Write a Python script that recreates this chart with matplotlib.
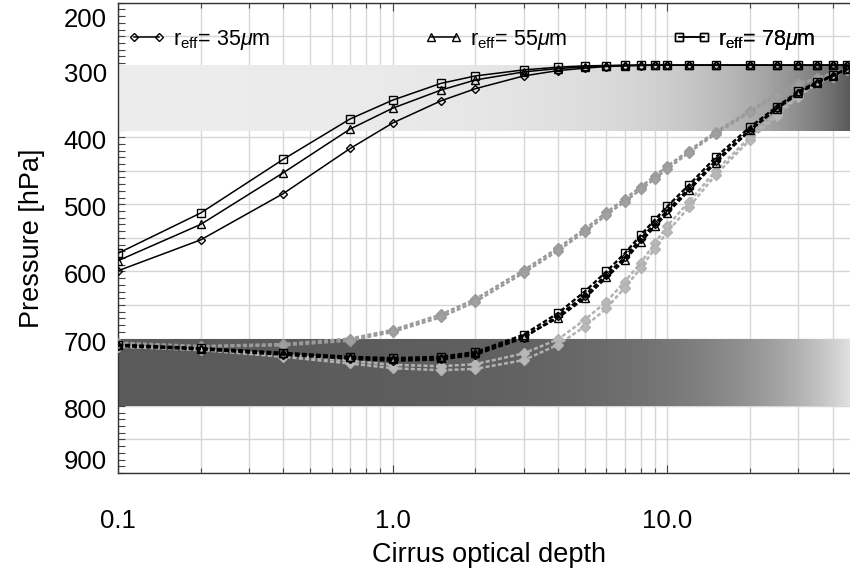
import numpy as np
import matplotlib
matplotlib.use('Agg')
import matplotlib.pyplot as plt
import matplotlib.transforms as mtransforms
from matplotlib.ticker import FixedLocator, NullFormatter, FixedFormatter

plt.rcParams['font.family'] = ['Liberation Sans', 'DejaVu Sans']
plt.rcParams['mathtext.fontset'] = 'custom'
plt.rcParams['mathtext.rm'] = 'Liberation Sans'
plt.rcParams['mathtext.it'] = 'Liberation Sans:italic'
plt.rcParams['mathtext.bf'] = 'Liberation Sans:bold'

# ---------------- data ----------------
tau = [0.1, 0.2, 0.4, 0.7, 1.0, 1.5, 2, 3, 4, 5, 6, 7, 8, 9, 10, 12, 15, 20, 25, 30, 35, 40, 45]

# solid (black) curves
solid_35 = [599, 553, 484, 417, 379, 346, 328, 309, 301, 297.5, 295, 294, 293.5, 293, 293, 293, 293, 293, 293, 293, 293, 293, 293]
solid_55 = [584, 530, 453, 388, 357, 330, 315, 303, 298, 295.5, 294, 293.5, 293, 293, 293, 293, 293, 293, 293, 293, 293, 293, 293]
solid_78 = [573, 513, 433, 373, 345, 320, 309, 300, 296, 294, 293.5, 293, 293, 293, 293, 293, 293, 293, 293, 293, 293, 293, 293]

# dashed (black) curves
dash_35 = [711, 716, 724, 730, 733, 731, 724, 699, 666, 636, 605, 579, 551, 529, 509, 476, 435, 389, 357, 334, 319, 309, 299]
dash_55 = [710, 715, 722, 728, 731, 729, 722, 697, 669, 640, 609, 583, 556, 533, 513, 479, 438, 390, 358, 335, 320, 309, 299]
dash_78 = [709, 714, 721, 727, 729, 727, 720, 694, 662, 630, 600, 573, 546, 523, 503, 471, 430, 385, 355, 332, 318, 308, 298]

# grey dashed, upper group
grey_a1 = [706, 711, 708, 700, 687, 664, 641, 598, 565, 537, 512, 492, 474, 458, 443, 420, 392, 361, 336, 320, 312, 305, 298]
grey_a2 = [707, 712, 710, 703, 690, 668, 645, 602, 569, 541, 516, 496, 478, 462, 447, 423, 395, 363, 338, 322, 313, 306, 299]
# grey dashed, lower group
grey_b1 = [711, 716, 724, 733, 739, 741, 738, 722, 701, 672, 645, 615, 587, 558, 532, 496, 450, 400, 365, 338, 318, 308, 298]
grey_b2 = [712, 717, 727, 737, 744, 747, 745, 732, 709, 682, 655, 624, 595, 566, 541, 504, 456, 404, 368, 340, 320, 310, 300]

# shaded layers (hPa)
upper_layer = [293, 391]
lower_layer = [700, 800]

legend_labels = [r'r$_{\rm eff}$= 35$\mu$m', r'r$_{\rm eff}$= 55$\mu$m', r'r$_{\rm eff}$= 78$\mu$m']
xtick_vals = [0.1, 1.0, 10.0]
xtick_labels = ['0.1', '1.0', '10.0']
ytick_vals = [200, 300, 400, 500, 600, 700, 800, 900]

# ---------------- figure ----------------
W, H = 850, 576
fig = plt.figure(figsize=(W / 100, H / 100), dpi=100)
px0, px1 = 118, 859.4
py0, py1 = 2.7, 473
ax = fig.add_axes([px0 / W, (H - py1) / H, (px1 - px0) / W, (py1 - py0) / H])
ax.set_xscale('log')
ax.set_xlim(0.1, 50)
ax.set_ylim(900, 200)

# gradient bands
tg = np.geomspace(0.1, 50, 600)
tc = np.sqrt(tg[:-1] * tg[1:])
up_shade = np.clip(236 - 3.17 * tc, 0, 255) / 255.0
lo_shade = np.clip(90 + 2.9 * tc, 0, 255) / 255.0
ax.pcolormesh(tg, upper_layer, up_shade[None, :], cmap='gray', vmin=0, vmax=1,
              shading='flat', zorder=1, antialiased=False, rasterized=True)
ax.pcolormesh(tg, lower_layer, lo_shade[None, :], cmap='gray', vmin=0, vmax=1,
              shading='flat', zorder=1, antialiased=False, rasterized=True)

# grid
ax.xaxis.set_major_locator(FixedLocator(xtick_vals))
ax.xaxis.set_major_formatter(FixedFormatter(xtick_labels))
minor_x = [m * d for d in (0.1, 1, 10) for m in range(2, 10) if m * d <= 50]
ax.xaxis.set_minor_locator(FixedLocator(minor_x))
ax.xaxis.set_minor_formatter(NullFormatter())
ax.yaxis.set_major_locator(FixedLocator(np.arange(200, 901, 50)))
ax.yaxis.set_major_formatter(NullFormatter())
ax.yaxis.set_minor_locator(FixedLocator(np.arange(200, 901, 10)))
ax.grid(which='both', axis='x', color='#d6d6d6', linewidth=1.0, zorder=0)
ax.grid(which='major', axis='y', color='#d6d6d6', linewidth=1.0, zorder=0)
ax.set_axisbelow(True)

ax.tick_params(axis='x', which='major', direction='in', length=6, width=0.8, top=True, bottom=True,
               labelsize=18.5, pad=26, colors='#444444', labelcolor='black')
ax.tick_params(axis='x', which='minor', direction='in', length=3.5, width=0.8, top=True, bottom=True,
               colors='#444444')
ax.tick_params(axis='y', which='both', direction='in', length=5, width=0.8, left=True, right=False,
               colors='#444444')
for s in ax.spines.values():
    s.set_color('#333333')
    s.set_linewidth(1.0)

# y tick labels as text with slight IDL-like offsets
ylab_offsets = {200: -17, 900: 11}
for v in ytick_vals:
    dy = ylab_offsets.get(v, -5)
    tr = ax.get_yaxis_transform() + mtransforms.ScaledTranslation(0, dy / 100, fig.dpi_scale_trans)
    ax.text(-0.0152, v, str(v), transform=tr, ha='right', va='center', fontsize=18.5, clip_on=False)

# curves
lw_s = 1.1
ms_kw = dict(markerfacecolor='none', markeredgecolor='black', markeredgewidth=1.0)
l1, = ax.plot(tau, solid_35, '-', color='black', lw=lw_s, marker='D', ms=4.5, zorder=5, **ms_kw)
l2, = ax.plot(tau, solid_55, '-', color='black', lw=lw_s, marker='^', ms=6, zorder=5, **ms_kw)
l3, = ax.plot(tau, solid_78, '-', color='black', lw=lw_s, marker='s', ms=5.5, zorder=5, **ms_kw)

gk = dict(lw=1.8, dashes=(1.6, 0.9), zorder=3)
for ser in (grey_a1, grey_a2):
    ax.plot(tau, ser, color='#9a9a9a', marker='D', ms=5.5, markerfacecolor='#a0a0a0',
            markeredgecolor='#9a9a9a', **gk)
for ser in (grey_b1, grey_b2):
    ax.plot(tau, ser, color='#b2b2b2', marker='D', ms=5.5, markerfacecolor='#b8b8b8',
            markeredgecolor='#b2b2b2', **gk)

dk = dict(color='black', lw=1.7, dashes=(2.0, 1.0), zorder=4)
ax.plot(tau, dash_35, marker='D', ms=4.5, **ms_kw, **dk)
ax.plot(tau, dash_55, marker='^', ms=6, **ms_kw, **dk)
ax.plot(tau, dash_78, marker='s', ms=5.5, **ms_kw, **dk)

# legends (three separate entries)
leg_x = [(128 - px0) / (px1 - px0), (425 - px0) / (px1 - px0), (673 - px0) / (px1 - px0)]
leg_y = (py1 - 40) / (py1 - py0)
for h, lab, lx in zip((l1, l2, l3), legend_labels, leg_x):
    lg = ax.legend([h], [lab], loc='center left', bbox_to_anchor=(lx, leg_y), frameon=False,
                   numpoints=2, handlelength=1.75, handletextpad=0.35, borderpad=0,
                   borderaxespad=0, fontsize=15.5)
    ax.add_artist(lg)

ax.set_xlabel('Cirrus optical depth', fontsize=19.5)
ax.xaxis.set_label_coords(0.5, -0.147)
ax.set_ylabel('Pressure [hPa]', fontsize=19.5)
ax.yaxis.set_label_coords(-0.098, 0.5)

fig.savefig('out.png', dpi=100)
